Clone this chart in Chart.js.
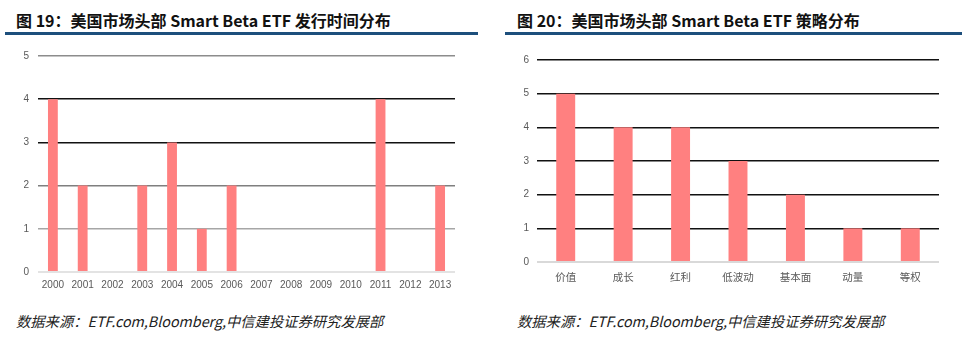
<!DOCTYPE html>
<html>
<head>
<meta charset="utf-8">
<script src="https://cdn.jsdelivr.net/npm/chart.js@4.4.0/dist/chart.umd.min.js"></script>
<style>
  body { margin: 0; width: 973px; height: 350px; background: #fff; position: relative; overflow: hidden; font-family: "Noto Sans CJK SC", "Noto Sans", sans-serif; }
  .title { position: absolute; top: 8px; font-size: 16px; font-weight: bold; color: #111; white-space: nowrap; }
  .rule { position: absolute; top: 32px; height: 3px; background: #1d4f7c; }
  .source { position: absolute; top: 310px; font-size: 14.3px; font-style: italic; color: #222; white-space: nowrap; }
  .box { position: absolute; top: 40px; height: 260px; }
</style>
</head>
<body>
<div class="title" style="left:16px">图 19：美国市场头部 Smart Beta ETF 发行时间分布</div>
<div class="rule" style="left:5px;width:473px"></div>
<div class="title" style="left:517px">图 20：美国市场头部 Smart Beta ETF 策略分布</div>
<div class="rule" style="left:505px;width:457px"></div>

<div class="box" style="left:0;width:480px"><canvas id="yearChart"></canvas></div>
<div class="box" style="left:490px;width:483px"><canvas id="styleChart"></canvas></div>

<div class="source" style="left:16px">数据来源：ETF.com,Bloomberg,中信建投证券研究发展部</div>
<div class="source" style="left:517px">数据来源：ETF.com,Bloomberg,中信建投证券研究发展部</div>

<script>
// Figure 19: launches per year
const years = ["2000", "2001", "2002", "2003", "2004", "2005", "2006", "2007", "2008", "2009", "2010", "2011", "2012", "2013"];
const yearCounts = [4, 2, 0, 2, 3, 1, 2, 0, 0, 0, 0, 4, 0, 2];
const yearTicks = [0, 1, 2, 3, 4, 5];

// Figure 20: strategy distribution
const strategies = ["价值", "成长", "红利", "低波动", "基本面", "动量", "等权"];
const strategyCounts = [5, 4, 4, 3, 2, 1, 1];
const strategyTicks = [0, 1, 2, 3, 4, 5, 6];

const barColor = "#ff8080";
const tickColor = "#595959";

function makeChart(id, labels, values, ticks, opts) {
  const ctx = document.getElementById(id).getContext("2d");
  return new Chart(ctx, {
    type: "bar",
    data: {
      labels: labels,
      datasets: [
        {
          data: values,
          backgroundColor: barColor,
          borderWidth: 0,
          barPercentage: 0.33,
          categoryPercentage: 1,
        },
      ],
    },
    options: {
      responsive: true,
      maintainAspectRatio: false,
      animation: false,
      layout: { padding: { top: opts.top, right: opts.right, left: 0, bottom: 0 } },
      plugins: { legend: { display: false }, tooltip: { enabled: false } },
      scales: {
        x: {
          grid: { display: false, drawTicks: false },
          border: { display: false },
          ticks: {
            color: tickColor,
            font: opts.xFont,
            padding: opts.xPad,
            maxRotation: 0,
            autoSkip: false,
          },
          afterFit: (scale) => { scale.height = opts.xHeight; },
        },
        y: {
          min: 0,
          max: ticks[ticks.length - 1],
          afterBuildTicks: (scale) => { scale.ticks = ticks.map((v) => ({ value: v })); },
          grid: {
            drawTicks: false,
            color: (c) => opts.gridColors[c.index],
            lineWidth: (c) => (c.index === 0 ? 2 : 1.5),
          },
          border: { display: false },
          ticks: {
            color: tickColor,
            font: { family: "Liberation Sans", size: 10 },
            padding: opts.yPad,
          },
          afterFit: (scale) => { scale.width = opts.yWidth; },
        },
      },
    },
  });
}

makeChart("yearChart", years, yearCounts, yearTicks, {
  top: 16,
  right: 25,
  xHeight: 28,
  xPad: 7,
  yWidth: 38,
  yPad: 9,
  xFont: { family: "Liberation Sans", size: 10 },
  gridColors: ["#e3e3e3", "#a6a6a6", "#7f7f7f", "#111", "#111", "#8c8c8c"],
});

makeChart("styleChart", strategies, strategyCounts, strategyTicks, {
  top: 20,
  right: 34,
  xHeight: 38,
  xPad: 9,
  yWidth: 47,
  yPad: 8,
  xFont: { family: "Noto Sans CJK SC", size: 10.5 },
  gridColors: ["#d9d9d9", "#111", "#111", "#111", "#111", "#111", "#111"],
});
</script>
</body>
</html>
